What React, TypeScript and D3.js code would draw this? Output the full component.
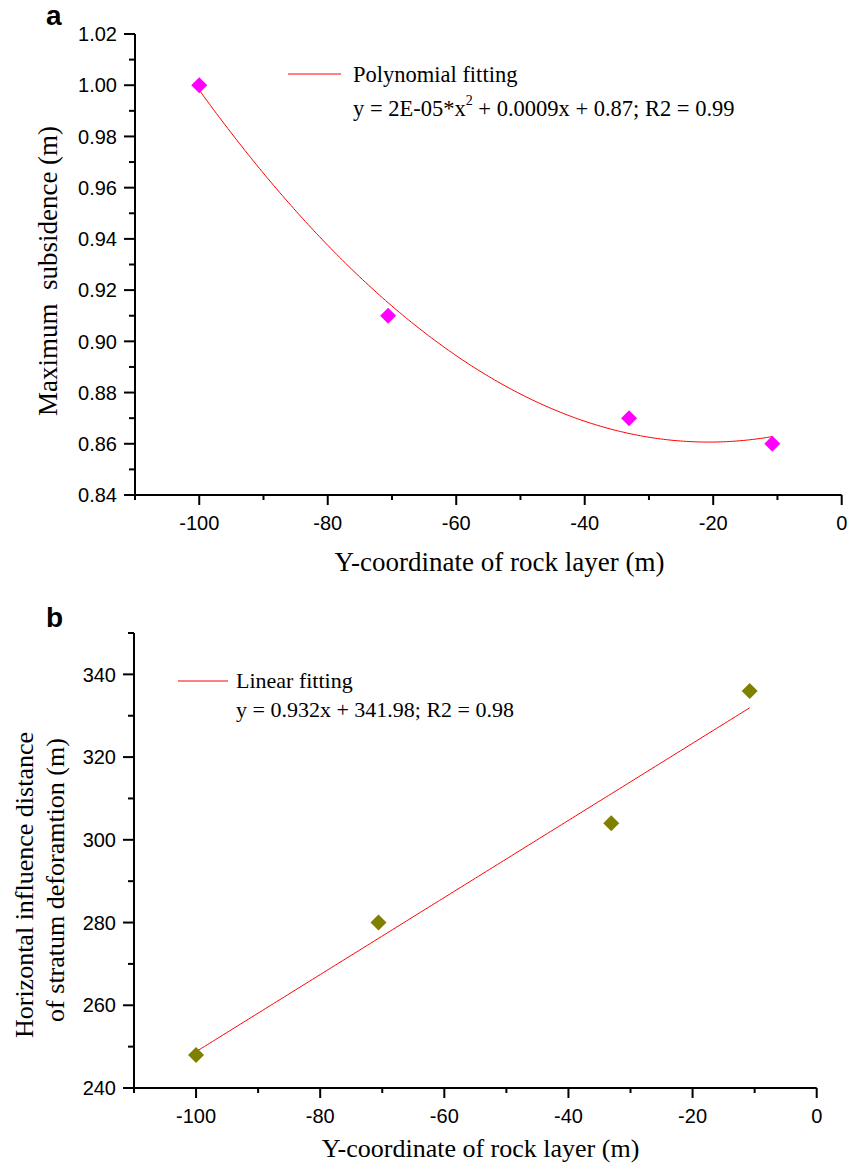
import React from "react";
import * as d3 from "d3";

const xValues = [-100, -70.6, -33.1, -10.8];
const subsidence = [1.0, 0.91, 0.87, 0.86];
const influence = [248, 280, 304, 336];

const xMajorTicks = [-100, -80, -60, -40, -20, 0];
const xMinorTicks = [-110, -90, -70, -50, -30, -10];
const yMajorTicksA = [0.84, 0.86, 0.88, 0.9, 0.92, 0.94, 0.96, 0.98, 1.0, 1.02];
const yMinorTicksA = [0.85, 0.87, 0.89, 0.91, 0.93, 0.95, 0.97, 0.99, 1.01];
const yMajorTicksB = [240, 260, 280, 300, 320, 340];
const yMinorTicksB = [250, 270, 290, 310, 330, 350];

const SERIF = "'Liberation Serif', 'Times New Roman', serif";
const SANS = "'Liberation Sans', Arial, sans-serif";

function leastSquares(xs: number[], ys: number[], deg: number): number[] {
  const n = deg + 1;
  const A: number[][] = [];
  for (let i = 0; i < n; i++) {
    const row: number[] = [];
    for (let j = 0; j < n; j++) row.push(d3.sum(xs, (x) => Math.pow(x, i + j)));
    row.push(d3.sum(xs, (x, k) => Math.pow(x, i) * ys[k]));
    A.push(row);
  }
  for (let c = 0; c < n; c++) {
    let p = c;
    for (let r = c + 1; r < n; r++) if (Math.abs(A[r][c]) > Math.abs(A[p][c])) p = r;
    [A[c], A[p]] = [A[p], A[c]];
    for (let r = 0; r < n; r++) {
      if (r === c) continue;
      const f = A[r][c] / A[c][c];
      for (let k = c; k <= n; k++) A[r][k] -= f * A[c][k];
    }
  }
  return A.map((row, i) => row[n] / row[i]);
}

function evalPoly(coef: number[], x: number) {
  return coef.reduce((s, c, i) => s + c * Math.pow(x, i), 0);
}

type PanelProps = {
  xRange: [number, number];
  yRange: [number, number];
  yDomain: [number, number];
  ys: number[];
  deg: number;
  yMajor: number[];
  yMinor: number[];
  yFmt: (v: number) => string;
  color: string;
  xLabelBaseline: number;
  xTitleBaseline: number;
  xTitleSize: number;
  xTitleCenter: number;
};

function Panel(p: PanelProps) {
  const x = d3.scaleLinear().domain([-110, 0]).range(p.xRange);
  const y = d3.scaleLinear().domain(p.yDomain).range(p.yRange);
  const coef = leastSquares(xValues, p.ys, p.deg);
  const x0 = xValues[0];
  const x1 = xValues[xValues.length - 1];
  const samples = d3.range(0, 201).map((i) => x0 + ((x1 - x0) * i) / 200);
  const line = d3
    .line<number>()
    .x((d) => x(d))
    .y((d) => y(evalPoly(coef, d)));
  const sym = d3.symbol(d3.symbolSquare, 128)();
  const left = p.xRange[0];
  const bottom = p.yRange[0];
  const top = p.yRange[1];
  return (
    <g>
      <path d={line(samples) || ""} fill="none" stroke="#ff0000" strokeWidth={1} />
      {xValues.map((xv, i) => (
        <path
          key={i}
          d={sym || ""}
          transform={`translate(${x(xv)},${y(p.ys[i])}) rotate(45)`}
          fill={p.color}
        />
      ))}
      <line x1={left} x2={left} y1={top} y2={bottom} stroke="#000" strokeWidth={2} />
      <line x1={left} x2={p.xRange[1]} y1={bottom} y2={bottom} stroke="#000" strokeWidth={2} />
      {p.yMajor.map((t) => (
        <g key={"ym" + t}>
          <line x1={left - 11} x2={left} y1={y(t)} y2={y(t)} stroke="#000" strokeWidth={2} />
          <text
            x={left - 18}
            y={y(t)}
            dy="0.36em"
            textAnchor="end"
            fontFamily={SANS}
            fontSize={20}
          >
            {p.yFmt(t)}
          </text>
        </g>
      ))}
      {p.yMinor.map((t) => (
        <line key={"yn" + t} x1={left - 6} x2={left} y1={y(t)} y2={y(t)} stroke="#000" strokeWidth={2} />
      ))}
      {xMajorTicks.map((t) => (
        <g key={"xm" + t}>
          <line x1={x(t)} x2={x(t)} y1={bottom} y2={bottom + 10} stroke="#000" strokeWidth={2} />
          <text
            x={x(t)}
            y={p.xLabelBaseline}
            textAnchor="middle"
            fontFamily={SANS}
            fontSize={20}
          >
            {t}
          </text>
        </g>
      ))}
      {xMinorTicks.map((t) => (
        <line key={"xn" + t} x1={x(t)} x2={x(t)} y1={bottom} y2={bottom + 5} stroke="#000" strokeWidth={2} />
      ))}
      <text
        x={p.xTitleCenter}
        y={p.xTitleBaseline}
        textAnchor="middle"
        fontFamily={SERIF}
        fontSize={p.xTitleSize}
      >
        Y-coordinate of rock layer (m)
      </text>
    </g>
  );
}

export default function App() {
  return (
    <svg
      width={861}
      height={1172}
      viewBox="0 0 861 1172"
      style={{ position: "absolute", left: 0, top: 0, background: "#fff" }}
    >
      <rect x={0} y={0} width={861} height={1172} fill="#fff" />
      {/* Panel a */}
      <text x={46} y={25} fontFamily={SANS} fontWeight="bold" fontSize={28}>
        a
      </text>
      <Panel
        xRange={[135, 841.7]}
        yRange={[495, 34]}
        yDomain={[0.84, 1.02]}
        ys={subsidence}
        deg={2}
        yMajor={yMajorTicksA}
        yMinor={yMinorTicksA}
        yFmt={d3.format(".2f")}
        color="#ff00ff"
        xLabelBaseline={530}
        xTitleBaseline={571}
        xTitleSize={27}
        xTitleCenter={499.5}
      />
      <text
        transform="translate(57,271) rotate(-90)"
        textAnchor="middle"
        fontFamily={SERIF}
        fontSize={27}
        style={{ whiteSpace: "pre" }}
      >
        {"Maximum  subsidence (m)"}
      </text>
      <line x1={288} x2={341} y1={74} y2={74} stroke="#ff0000" strokeWidth={1} />
      <text x={353} y={82} fontFamily={SERIF} fontSize={22.5}>
        Polynomial fitting
      </text>
      <text x={353} y={116} fontFamily={SERIF} fontSize={22.5}>
        y = 2E-05*x
        <tspan dy={-11} fontSize={14}>
          2
        </tspan>
        <tspan dy={11}> + 0.0009x + 0.87; R2 = 0.99</tspan>
      </text>

      {/* Panel b */}
      <text x={46} y={627} fontFamily={SANS} fontWeight="bold" fontSize={28}>
        b
      </text>
      <Panel
        xRange={[134, 816.7]}
        yRange={[1088, 633]}
        yDomain={[240, 350]}
        ys={influence}
        deg={1}
        yMajor={yMajorTicksB}
        yMinor={yMinorTicksB}
        yFmt={d3.format("d")}
        color="#808000"
        xLabelBaseline={1123}
        xTitleBaseline={1157}
        xTitleSize={26}
        xTitleCenter={480.5}
      />
      <text
        transform="translate(33,885) rotate(-90)"
        textAnchor="middle"
        fontFamily={SERIF}
        fontSize={26}
      >
        Horizontal influence distance
      </text>
      <text
        transform="translate(64,880) rotate(-90)"
        textAnchor="middle"
        fontFamily={SERIF}
        fontSize={26}
      >
        of stratum deforamtion (m)
      </text>
      <line x1={178} x2={228} y1={681} y2={681} stroke="#ff0000" strokeWidth={1} />
      <text x={236} y={688} fontFamily={SERIF} fontSize={22}>
        Linear fitting
      </text>
      <text x={236} y={717} fontFamily={SERIF} fontSize={22}>
        y = 0.932x + 341.98; R2 = 0.98
      </text>
    </svg>
  );
}
